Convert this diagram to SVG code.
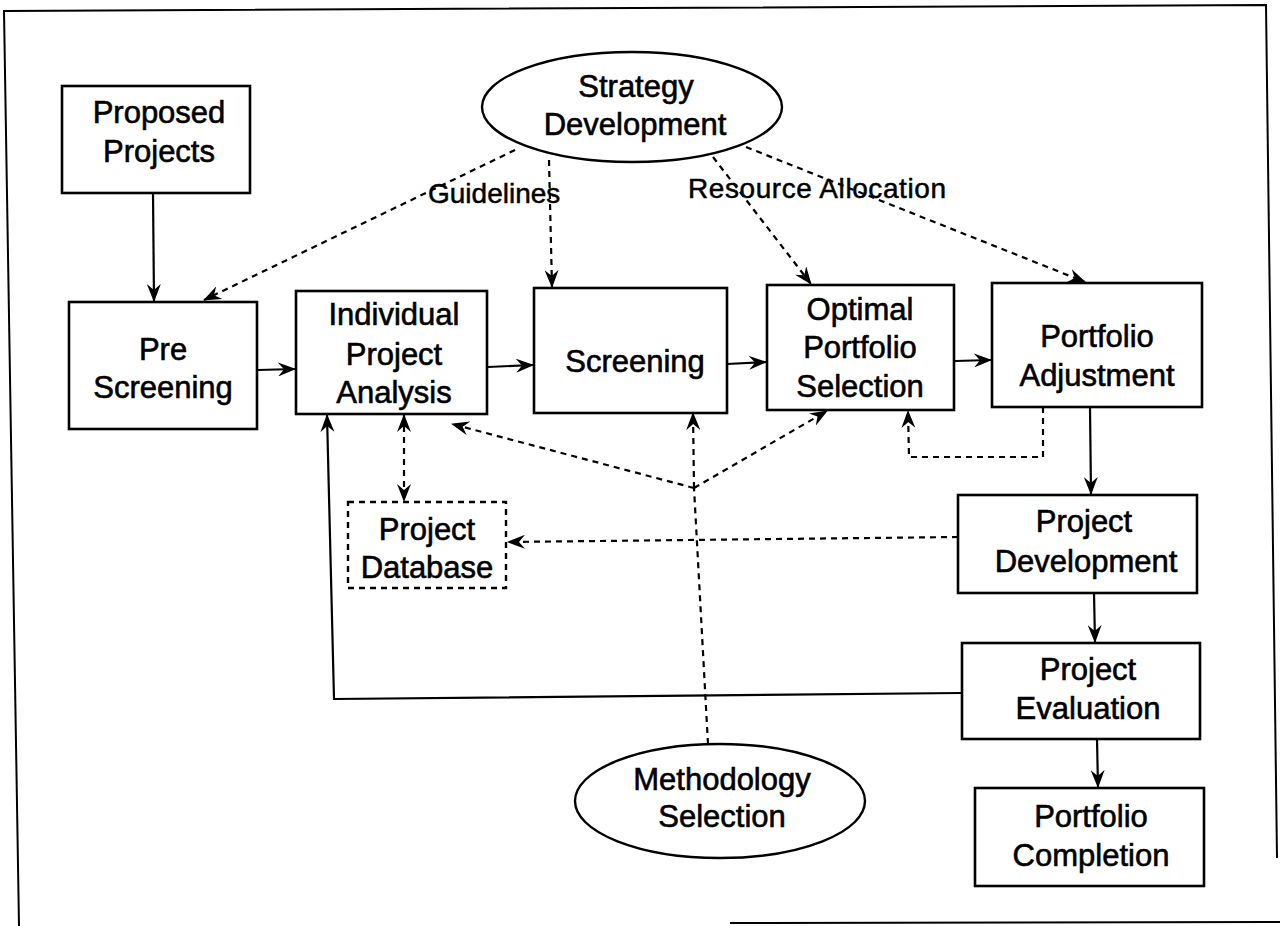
<svg xmlns="http://www.w3.org/2000/svg" width="1280" height="926" viewBox="0 0 1280 926">
  <style>
    .box { fill: #fff; stroke: #000; stroke-width: 2.6; }
    .dbox { fill: #fff; stroke: #000; stroke-width: 2.4; stroke-dasharray: 6 5; }
    .oval { fill: #fff; stroke: #000; stroke-width: 2.4; }
    .t { font-family: "Liberation Sans", Arial, sans-serif; font-size: 31px; fill: #000; stroke: #000; stroke-width: 0.6; text-anchor: middle; }
    .lbl { font-family: "Liberation Sans", Arial, sans-serif; font-size: 28px; fill: #000; stroke: #000; stroke-width: 0.5; }
    .solid { fill: none; stroke: #000; stroke-width: 2.2; }
    .dash { fill: none; stroke: #000; stroke-width: 2.2; stroke-dasharray: 6 5; }
    .frame { fill: none; stroke: #000; stroke-width: 2; }
  </style>
  <defs>
    <marker id="arrow" viewBox="0 0 18 14" refX="17" refY="7" markerWidth="18" markerHeight="14" markerUnits="userSpaceOnUse" orient="auto-start-reverse">
      <path d="M0,0 L18,7 L0,14 L6,7 z" fill="#000"/>
    </marker>
  </defs>
  <rect width="1280" height="926" fill="#fff"/>

  <!-- outer frame -->
  <g id="frame">
    <polyline class="frame" points="19,926 4,11 1266,5 1277,858"/>
    <line class="frame" x1="730" y1="923" x2="1280" y2="922"/>
  </g>

  <!-- connectors -->
  <g id="connectors">
    <line class="solid" x1="153" y1="193" x2="154" y2="301" marker-end="url(#arrow)"/>
    <line class="solid" x1="258" y1="370" x2="295" y2="369" marker-end="url(#arrow)"/>
    <line class="solid" x1="488" y1="367" x2="533" y2="365" marker-end="url(#arrow)"/>
    <line class="solid" x1="727" y1="364" x2="766" y2="362" marker-end="url(#arrow)"/>
    <line class="solid" x1="955" y1="361" x2="991" y2="360" marker-end="url(#arrow)"/>
    <line class="solid" x1="1090" y1="407" x2="1091" y2="494" marker-end="url(#arrow)"/>
    <line class="solid" x1="1094" y1="593" x2="1095" y2="642" marker-end="url(#arrow)"/>
    <line class="solid" x1="1097" y1="739" x2="1098" y2="787" marker-end="url(#arrow)"/>
    <polyline class="solid" points="961,693 334,699 327,415" marker-end="url(#arrow)"/>

    <line class="dash" x1="515" y1="150" x2="204" y2="300" marker-end="url(#arrow)"/>
    <line class="dash" x1="549" y1="160" x2="552" y2="287" marker-end="url(#arrow)"/>
    <line class="dash" x1="713" y1="157" x2="811" y2="284" marker-end="url(#arrow)"/>
    <line class="dash" x1="746" y1="147" x2="1085" y2="282" marker-end="url(#arrow)"/>
    <polyline class="dash" points="1043,407 1043,457 909,457 908,411" marker-end="url(#arrow)"/>
    <line class="dash" x1="404" y1="415" x2="404" y2="501" marker-start="url(#arrow)" marker-end="url(#arrow)"/>
    <line class="dash" x1="958" y1="537" x2="508" y2="542" marker-end="url(#arrow)"/>
    <line class="dash" x1="708" y1="744" x2="694" y2="488"/>
    <line class="dash" x1="694" y1="488" x2="693" y2="413" marker-end="url(#arrow)"/>
    <line class="dash" x1="694" y1="488" x2="452" y2="424" marker-end="url(#arrow)"/>
    <line class="dash" x1="694" y1="488" x2="827" y2="411" marker-end="url(#arrow)"/>
  </g>

  <!-- connector labels -->
  <g id="labels">
    <text class="lbl" x="428" y="203">Guidelines</text>
    <text class="lbl" x="688" y="198" textLength="258">Resource Allocation</text>
  </g>

  <g id="proposed-projects">
    <rect class="box" x="62" y="86" width="188" height="107"/>
    <text class="t" x="159" y="123">Proposed</text>
    <text class="t" x="159" y="162">Projects</text>
  </g>

  <g id="strategy-development">
    <ellipse class="oval" cx="632" cy="107" rx="150" ry="55"/>
    <text class="t" x="636" y="97">Strategy</text>
    <text class="t" x="635" y="135">Development</text>
  </g>

  <g id="pre-screening">
    <rect class="box" x="69" y="302" width="188" height="127"/>
    <text class="t" x="163" y="360">Pre</text>
    <text class="t" x="163" y="398">Screening</text>
  </g>

  <g id="individual-project-analysis">
    <rect class="box" x="296" y="291" width="191" height="123"/>
    <text class="t" x="394" y="325">Individual</text>
    <text class="t" x="394" y="365">Project</text>
    <text class="t" x="394" y="403">Analysis</text>
  </g>

  <g id="screening">
    <rect class="box" x="534" y="288" width="193" height="125"/>
    <text class="t" x="635" y="372">Screening</text>
  </g>

  <g id="optimal-portfolio-selection">
    <rect class="box" x="767" y="285" width="187" height="125"/>
    <text class="t" x="860" y="320">Optimal</text>
    <text class="t" x="860" y="358">Portfolio</text>
    <text class="t" x="860" y="397">Selection</text>
  </g>

  <g id="portfolio-adjustment">
    <rect class="box" x="992" y="283" width="210" height="124"/>
    <text class="t" x="1097" y="347">Portfolio</text>
    <text class="t" x="1097" y="386">Adjustment</text>
  </g>

  <g id="project-database">
    <rect class="dbox" x="348" y="502" width="158" height="86"/>
    <text class="t" x="427" y="540">Project</text>
    <text class="t" x="427" y="578">Database</text>
  </g>

  <g id="project-development">
    <rect class="box" x="958" y="495" width="239" height="98"/>
    <text class="t" x="1084" y="532">Project</text>
    <text class="t" x="1086" y="572">Development</text>
  </g>

  <g id="project-evaluation">
    <rect class="box" x="962" y="643" width="238" height="96"/>
    <text class="t" x="1088" y="680">Project</text>
    <text class="t" x="1088" y="719">Evaluation</text>
  </g>

  <g id="methodology-selection">
    <ellipse class="oval" cx="720" cy="801" rx="145" ry="57"/>
    <text class="t" x="722" y="790">Methodology</text>
    <text class="t" x="722" y="827">Selection</text>
  </g>

  <g id="portfolio-completion">
    <rect class="box" x="975" y="788" width="229" height="98"/>
    <text class="t" x="1091" y="827">Portfolio</text>
    <text class="t" x="1091" y="866">Completion</text>
  </g>
</svg>
